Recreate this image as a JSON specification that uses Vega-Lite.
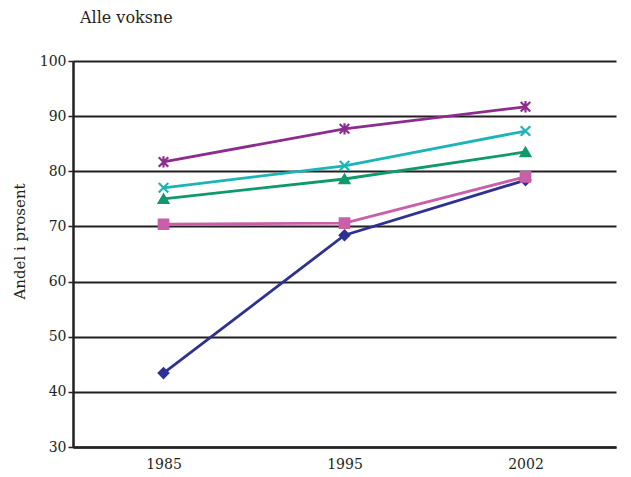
{
  "$schema": "https://vega.github.io/schema/vega-lite/v6.json",
  "autosize": {"type": "none"},
  "width": 543,
  "height": 386,
  "padding": {"left": 73, "top": 61, "right": 15, "bottom": 30},
  "background": "white",
  "title": {"text": "Alle voksne", "anchor": "start", "frame": "group", "dx": 7, "offset": 28, "font": "DejaVu Serif", "fontSize": 16, "fontWeight": "normal", "color": "#231f20"},
  "config": {"view": {"stroke": null}, "font": "DejaVu Serif"},
  "data": {"values": [
    {"year": "1985", "series": "A", "value": 43.4},
    {"year": "1995", "series": "A", "value": 68.4},
    {"year": "2002", "series": "A", "value": 78.4},
    {"year": "1985", "series": "B", "value": 70.4},
    {"year": "1995", "series": "B", "value": 70.6},
    {"year": "2002", "series": "B", "value": 79.0},
    {"year": "1985", "series": "C", "value": 75.0},
    {"year": "1995", "series": "C", "value": 78.6},
    {"year": "2002", "series": "C", "value": 83.5},
    {"year": "1985", "series": "D", "value": 77.0},
    {"year": "1995", "series": "D", "value": 81.0},
    {"year": "2002", "series": "D", "value": 87.3},
    {"year": "1985", "series": "E", "value": 81.7},
    {"year": "1995", "series": "E", "value": 87.7},
    {"year": "2002", "series": "E", "value": 91.7}
  ]},
  "encoding": {
    "x": {"field": "year", "type": "ordinal", "scale": {"type": "point", "padding": 0.5},
      "axis": {"title": null, "labelAngle": 0, "ticks": false, "domain": true, "domainColor": "#231f20", "domainWidth": 2.5, "labelFont": "DejaVu Serif", "labelFontSize": 14, "labelColor": "#231f20", "labelPadding": 10, "grid": false}},
    "y": {"field": "value", "type": "quantitative", "scale": {"domain": [30, 100], "nice": false},
      "axis": {"title": "Andel i prosent", "titleFont": "DejaVu Serif", "titleFontSize": 15, "titleFontWeight": "normal", "titleColor": "#231f20", "titlePadding": 12, "titleY": 180, "values": [30, 40, 50, 60, 70, 80, 90, 100], "grid": true, "gridColor": "#231f20", "gridWidth": 2, "gridOpacity": 1, "domainColor": "#231f20", "domainWidth": 2.5, "tickColor": "#231f20", "tickSize": 5, "tickWidth": 1.5, "labelFont": "DejaVu Serif", "labelFontSize": 14, "labelColor": "#231f20", "labelPadding": 2}},
    "color": {"field": "series", "type": "nominal", "legend": null,
      "scale": {"domain": ["A", "B", "C", "D", "E"], "range": ["#2e3192", "#c95fa8", "#0e9a6a", "#1bb5b8", "#8b2c8e"]}}
  },
  "layer": [
    {"mark": {"type": "line", "strokeWidth": 2.8}},
    {"mark": {"type": "point", "filled": true, "opacity": 1, "strokeWidth": 2.2},
      "encoding": {
        "shape": {"field": "series", "type": "nominal", "legend": null,
          "scale": {"domain": ["A", "B", "C", "D", "E"], "range": ["diamond", "square", "triangle-up", "M-1,-1L1,1M-1,1L1,-1", "M-1,-1L1,1M-1,1L1,-1M0,-1.2L0,1.2"]}},
        "size": {"value": 90},
        "stroke": {"field": "series", "type": "nominal", "legend": null,
          "scale": {"domain": ["A", "B", "C", "D", "E"], "range": ["#2e3192", "#c95fa8", "#0e9a6a", "#1bb5b8", "#8b2c8e"]}}
      }}
  ]
}
